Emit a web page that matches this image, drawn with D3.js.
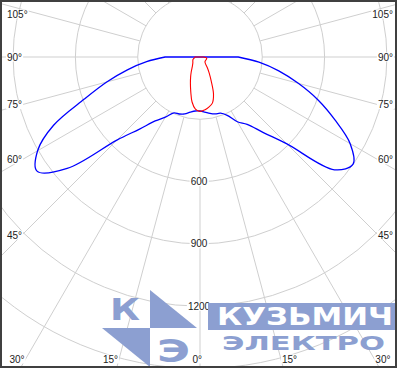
<!DOCTYPE html>
<html>
<head>
<meta charset="utf-8">
<script src="https://cdn.jsdelivr.net/npm/d3@7"></script>
<style>
body { margin: 0; background: #fff; }
svg { display: block; font-family: "Liberation Sans", Arial, sans-serif; }
</style>
</head>
<body>
<svg></svg>
<script>
const w = 400;
const h = 369;
const cx = 200;
const cy = 57;

// gamma angles (degrees from nadir)
const angles = [0, 5, 10, 15, 20, 25, 30, 35, 40, 45, 50, 55, 60, 65, 70, 75, 80, 85, 90];

// intensity, cd (blue plane: left / right half)
const blueLeft = [260, 261, 270, 284, 292, 297, 334, 376, 453, 566, 835, 958, 903, 778, 593, 465, 355, 258, 168];
const blueRight = [260, 266, 276, 284, 288, 310, 360, 396, 475, 592, 845, 900, 835, 717, 605, 490, 385, 285, 184];

// intensity, cd (red plane: left / right half)
const redLeft = [262, 252, 220, 172, 135, 107, 85, 68, 57, 50, 45, 42, 40, 38, 36, 32, 28, 25, 24];
const redRight = [262, 256, 245, 230, 190, 128, 88, 60, 40, 34, 32, 32, 32, 32, 33, 33, 33, 25, 16];

// grid
const ringValues = [300, 600, 900, 1200, 1500, 1800];
const ringLabels = [600, 900, 1200];
const spokeAngles = [0, 15, 30, 45, 60, 75, 90, 105, 120, 135, 150, 165, 180,
    -15, -30, -45, -60, -75, -90, -105, -120, -135, -150, -165];
const sideLabels = [45, 60, 75, 90, 105];
const bottomLabels = [-30, -15, 0, 15, 30];

const svg = d3.select('svg').attr('width', w).attr('height', h);

const rScale = d3.scaleLinear().domain([0, 300]).range([0, 62.3]);
const rad = (d) => (d * Math.PI) / 180;

svg.append('clipPath')
    .attr('id', 'frame')
    .append('rect')
    .attr('x', 2)
    .attr('y', 2)
    .attr('width', 393)
    .attr('height', 364);

const grid = svg.append('g').attr('clip-path', 'url(#frame)');
const g = grid.append('g').attr('transform', 'translate(' + cx + ',' + cy + ')');

g.selectAll('circle')
    .data(ringValues)
    .enter()
    .append('circle')
    .attr('r', (d) => rScale(d))
    .attr('fill', 'none')
    .attr('stroke', '#cfcfcf');

// spokes start at the first ring
g.selectAll('line')
    .data(spokeAngles)
    .enter()
    .append('line')
    .attr('x1', (d) => rScale(300) * Math.sin(rad(d)))
    .attr('y1', (d) => rScale(300) * Math.cos(rad(d)))
    .attr('x2', (d) => 700 * Math.sin(rad(d)))
    .attr('y2', (d) => 700 * Math.cos(rad(d)))
    .attr('stroke', '#cfcfcf');

// labels with white background
function label(x, y, txt, anchor) {
    const t = svg.append('text')
        .attr('x', x)
        .attr('y', y)
        .attr('dy', '0.35em')
        .attr('text-anchor', anchor)
        .attr('font-size', 10)
        .attr('fill', '#222')
        .text(txt);
    const b = t.node().getBBox();
    svg.insert('rect', function () { return t.node(); })
        .attr('x', b.x - 1)
        .attr('y', b.y + 1)
        .attr('width', b.width + 2)
        .attr('height', b.height - 2)
        .attr('fill', '#fff');
}

ringLabels.forEach((v) => label(cx - 1, cy + rScale(v), v, 'middle'));

sideLabels.forEach((a) => {
    const dy = (cx - 22) / Math.tan(rad(a));
    const y = Math.max(14, cy + dy);
    label(7, y, a + '°', 'start');
    label(393, y, a + '°', 'end');
});

bottomLabels.forEach((a) => {
    const xe = cx + (359 - cy) * Math.tan(rad(a));
    if (a > 0) label(xe + 1, 359, Math.abs(a) + '°', 'start');
    else if (a === 0) label(xe + 2, 359, '0°', 'end');
    else label(Math.max(xe - 1, 22), 359, Math.abs(a) + '°', 'end');
});

// watermark
const wm = '#8c9fd1';
const logo = svg.append('g');
logo.append('path').attr('d', 'M150,290L150,328L197,328Z').attr('fill', wm);
logo.append('path').attr('d', 'M102,328L150,328L150,367Z').attr('fill', wm);
logo.append('text').attr('x', 110).attr('y', 320).attr('font-size', 30).attr('font-weight', 'bold')
    .attr('font-family', 'DejaVu Sans').attr('textLength', 30).attr('lengthAdjust', 'spacingAndGlyphs')
    .attr('fill', wm).text('К');
logo.append('text').attr('x', 157).attr('y', 362).attr('font-size', 32).attr('font-weight', 'bold')
    .attr('font-family', 'DejaVu Sans').attr('textLength', 33).attr('lengthAdjust', 'spacingAndGlyphs')
    .attr('fill', wm).text('Э');
logo.append('rect').attr('x', 208).attr('y', 303).attr('width', 188).attr('height', 27).attr('fill', wm);
logo.append('text').attr('x', 217).attr('y', 325).attr('font-size', 25).attr('font-weight', 'bold')
    .attr('font-family', 'DejaVu Sans').attr('textLength', 176).attr('lengthAdjust', 'spacingAndGlyphs')
    .attr('fill', '#fff').text('КУЗЬМИЧ');
logo.append('text').attr('x', 222).attr('y', 350).attr('font-size', 20).attr('font-weight', 'bold')
    .attr('font-family', 'DejaVu Sans').attr('textLength', 163).attr('lengthAdjust', 'spacingAndGlyphs')
    .attr('fill', wm).text('ЭЛЕКТРО');

// curves
function curvePoints(left, right) {
    const pts = [];
    for (let i = angles.length - 1; i >= 0; i--) pts.push({ a: Math.PI + rad(angles[i]), v: left[i] });
    for (let i = 1; i < angles.length; i++) pts.push({ a: Math.PI - rad(angles[i]), v: right[i] });
    return pts;
}

const radial = d3.lineRadial()
    .angle((d) => d.a)
    .radius((d) => rScale(d.v))
    .curve(d3.curveCatmullRom);

const plot = svg.append('g').attr('transform', 'translate(' + cx + ',' + cy + ')');

plot.append('path')
    .attr('d', radial(curvePoints(blueLeft, blueRight)) + 'Z')
    .attr('fill', 'none')
    .attr('stroke', '#0000ff')
    .attr('stroke-width', 1.3);

plot.append('path')
    .attr('d', radial(curvePoints(redLeft, redRight)) + 'Z')
    .attr('fill', 'none')
    .attr('stroke', '#ff0000')
    .attr('stroke-width', 1.1);

// frame
svg.append('rect')
    .attr('x', 1)
    .attr('y', 1)
    .attr('width', 395)
    .attr('height', 366)
    .attr('fill', 'none')
    .attr('stroke', '#404040')
    .attr('stroke-width', 2);
</script>
</body>
</html>
